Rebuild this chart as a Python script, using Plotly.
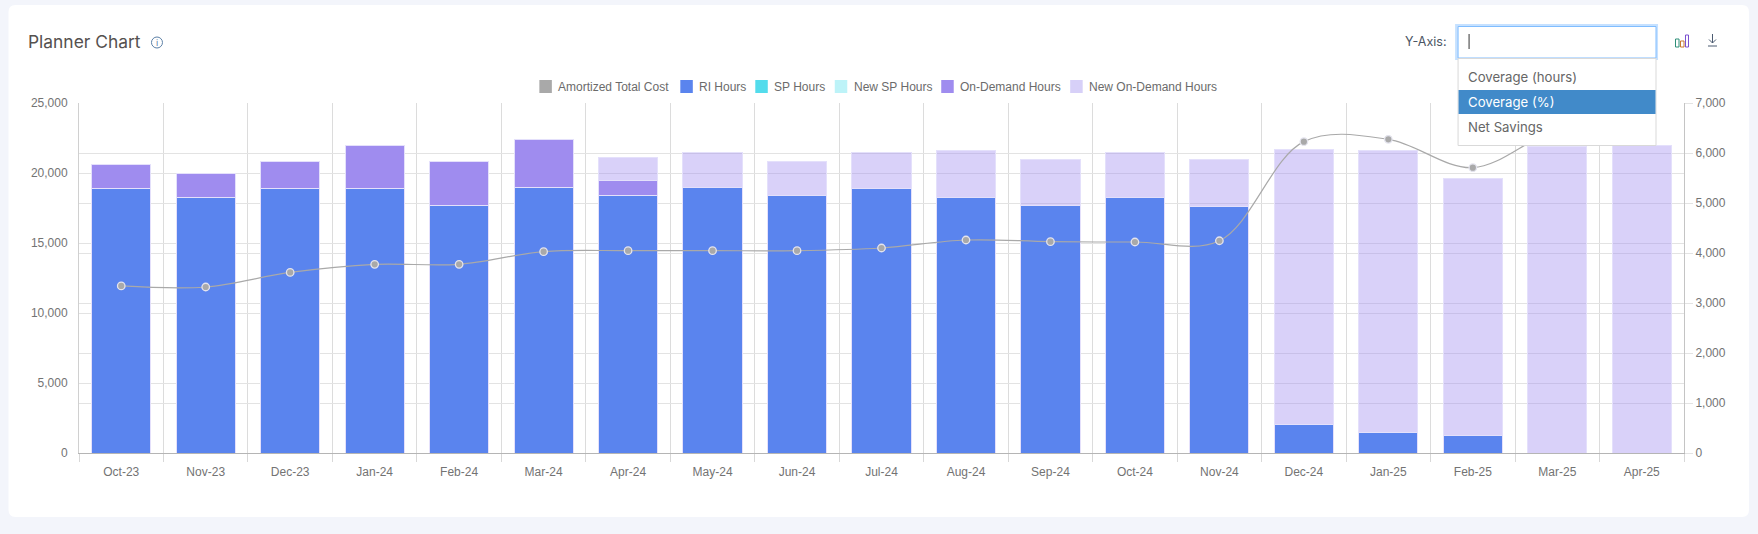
import plotly.graph_objects as go

# Dati
months = ["Oct-23", "Nov-23", "Dec-23", "Jan-24", "Feb-24", "Mar-24", "Apr-24", "May-24", "Jun-24", "Jul-24",
          "Aug-24", "Sep-24", "Oct-24", "Nov-24", "Dec-24", "Jan-25", "Feb-25", "Mar-25", "Apr-25"]
ri_hours = [18860, 18215, 18880, 18880, 17670, 18930, 18405, 18975, 18360, 18860,
            18240, 17645, 18240, 17620, 2020, 1430, 1285, 0, 0]
sp_hours = [0] * 19
new_sp_hours = [0] * 19
on_demand_hours = [1735, 1735, 1975, 3120, 3165, 3450, 1045, 0, 0, 0, 0, 0, 0, 0, 0, 0, 0, 0, 0]
new_on_demand_hours = [0, 0, 0, 0, 0, 0, 1645, 2455, 2450, 2640, 3355, 3285, 3260, 3330,
                       19650, 20165, 18315, 21860, 21930]
amortized_cost = [3342, 3320, 3612, 3774, 3774, 4027, 4047, 4047, 4047, 4100,
                  4260, 4227, 4220, 4245, 6227, 6273, 5707, 6450, 6500]
left_ticks = [0, 5000, 10000, 15000, 20000, 25000]
right_ticks = [0, 1000, 2000, 3000, 4000, 5000, 6000, 7000]
legend_names = ["Amortized Total Cost", "RI Hours", "SP Hours", "New SP Hours", "On-Demand Hours", "New On-Demand Hours"]
legend_colors = ["#a9a9a9", "#5a84ee", "#53dcec", "#bdf3f8", "#9f8cef", "#d7d0f8"]
legend_x = [539, 680, 755, 834.5, 941, 1070]

W, H = 1758, 534
L, R, T, B = 78.5, 1684, 103, 453


def px(x):
    return (x - L) / (R - L)


def py(y):
    return (B - y) / (B - T)


def rect(x0, y0, x1, y1, **kw):
    return dict(type="rect", xref="paper", yref="paper", x0=px(x0), x1=px(x1), y0=py(y0), y1=py(y1), **kw)


def rounded(x0, y0, x1, y1, r):
    # rettangolo arrotondato, in pixel
    p = f"M {px(x0 + r)} {py(y0)} L {px(x1 - r)} {py(y0)} Q {px(x1)} {py(y0)} {px(x1)} {py(y0 + r)} "
    p += f"L {px(x1)} {py(y1 - r)} Q {px(x1)} {py(y1)} {px(x1 - r)} {py(y1)} "
    p += f"L {px(x0 + r)} {py(y1)} Q {px(x0)} {py(y1)} {px(x0)} {py(y1 - r)} "
    p += f"L {px(x0)} {py(y0 + r)} Q {px(x0)} {py(y0)} {px(x0 + r)} {py(y0)} Z"
    return p


def label(x, y, text, size=12.5, color="#5f6368", font="Inter", anchor="left"):
    return dict(xref="paper", yref="paper", x=px(x), y=py(y), text=text, showarrow=False, xanchor=anchor,
                yanchor="middle", font=dict(family=font, size=size, color=color))


border = "#e4e0fb"
fig = go.Figure()
fig.add_trace(go.Bar(x=months, y=ri_hours, name="RI Hours",
                     marker=dict(color="#5a84ee", line=dict(color=border, width=1))))
fig.add_trace(go.Bar(x=months, y=sp_hours, name="SP Hours", marker=dict(color="#53dcec", line=dict(width=0))))
fig.add_trace(go.Bar(x=months, y=new_sp_hours, name="New SP Hours", marker=dict(color="#bdf3f8", line=dict(width=0))))
fig.add_trace(go.Bar(x=months, y=on_demand_hours, name="On-Demand Hours",
                     marker=dict(color="#9f8cef", line=dict(color=border, width=1))))
fig.add_trace(go.Bar(x=months, y=new_on_demand_hours, name="New On-Demand Hours",
                     marker=dict(color="rgba(159,140,239,0.4)", line=dict(color=border, width=1))))
fig.add_trace(go.Scatter(x=months, y=amortized_cost, yaxis="y2", mode="lines+markers", name="Amortized Total Cost",
                         line=dict(color="#a9a9a9", width=1.2, shape="spline", smoothing=1),
                         marker=dict(color="#a9a9a9", size=7.5, line=dict(color="#e4e4ee", width=1.3))))

shapes = [
    dict(type="path", xref="paper", yref="paper", path=rounded(8, 5, 1749, 517, 7),
         fillcolor="white", line=dict(width=0), layer="below"),
    # info icon
    dict(type="circle", xref="paper", yref="paper", x0=px(151), x1=px(162), y0=py(37), y1=py(48),
         line=dict(color="#5b7fa6", width=1), layer="above"),
    # select + dropdown
    rect(1455, 24, 1658, 60, fillcolor="rgba(128,189,255,0.45)", line=dict(width=0)),
    rect(1458, 26.5, 1656, 58, fillcolor="white", line=dict(color="#80bdff", width=1)),
    rect(1468.5, 34, 1469.5, 49, fillcolor="#333333", line=dict(width=0)),
    rect(1458, 58.5, 1656, 145.5, fillcolor="white", line=dict(color="#d9d9d9", width=1)),
    rect(1458.5, 90, 1655.5, 114, fillcolor="#418ac9", line=dict(width=0)),
    # bar-chart icon
    rect(1675.5, 39, 1679, 47, fillcolor="white", line=dict(color="#2f8f78", width=1)),
    rect(1680.5, 41, 1684, 47, fillcolor="white", line=dict(color="#c9792f", width=1)),
    rect(1685.5, 35, 1688.5, 47, fillcolor="white", line=dict(color="#7a4fd0", width=1)),
    # download icon
    dict(type="path", xref="paper", yref="paper", line=dict(color="#4a5a70", width=1),
         path=f"M {px(1712.5)} {py(34)} L {px(1712.5)} {py(43)} M {px(1709)} {py(39.5)} L {px(1712.5)} {py(43)} "
              f"L {px(1716)} {py(39.5)} M {px(1708)} {py(46)} L {px(1717)} {py(46)}"),
]

annotations = [
    label(25.5, 41.5, "Planner Chart", size=17.4, color="#55514f"),
    label(156.5, 42.5, "i", size=9, color="#5b7fa6", anchor="center"),
    label(1449, 41.5, "Y-Axis:", size=12.5, color="#4b5563", anchor="right"),
    label(1466, 77.5, "Coverage (hours)", size=13.2, color="#666666"),
    label(1466, 102, "Coverage (%)", size=13.2, color="white"),
    label(1466, 126.5, "Net Savings", size=13.2, color="#666666"),
]

# legenda disegnata a mano: quella di plotly ha spazi troppo larghi
for name, color, x in zip(legend_names, legend_colors, legend_x):
    shapes.append(rect(x, 80, x + 12.5, 93, fillcolor=color, line=dict(width=0)))
    annotations.append(label(x + 17, 86.5, name, size=12, color="#6b6b6b", font="Liberation Sans"))

fig.update_layout(
    width=W, height=H,
    margin=dict(l=L, r=W - R, t=T, b=H - B, pad=0),
    paper_bgcolor="#f3f5fb",
    plot_bgcolor="rgba(0,0,0,0)",
    barmode="stack",
    bargap=0.3,
    showlegend=False,
    font=dict(family="Liberation Sans", size=12, color="#737373"),
    hovermode=False,
    shapes=shapes,
    annotations=annotations,
    xaxis=dict(type="category", categoryorder="array", categoryarray=months, range=[-0.5, 18.5],
               tickson="boundaries", ticks="outside", ticklen=8, tickcolor="#d8d8d8", showgrid=True,
               ticklabelstandoff=8, gridcolor="#dcdcdc", gridwidth=1, showline=True, linecolor="#b5b5b5",
               linewidth=1, zeroline=False),
    yaxis=dict(range=[0, 25000], tickvals=left_ticks, tickformat=",", showgrid=True, gridcolor="#e3e3e3",
               zeroline=False, showline=True, linecolor="#d0d0d0", ticks="outside", ticklen=8,
               tickcolor="white"),
    yaxis2=dict(range=[0, 7000], tickvals=right_ticks, tickformat=",", overlaying="y", side="right",
                showgrid=True, gridcolor="#e3e3e3", zeroline=False, showline=True, linecolor="#c4c4c4",
                ticks="outside", ticklen=8, tickcolor="#e3e3e3"),
)

fig.write_html("out.html", config=dict(displayModeBar=False),
               post_script="document.body.style.margin='0';document.body.style.overflow='hidden';")
